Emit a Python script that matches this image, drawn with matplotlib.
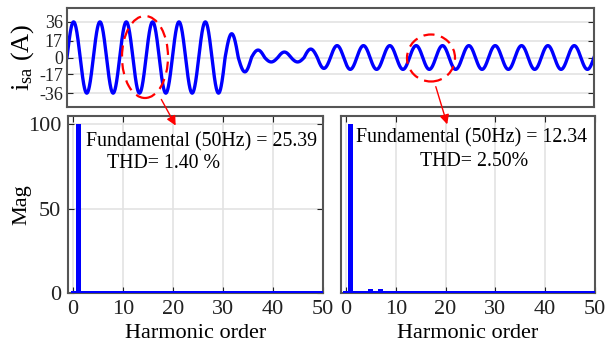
import numpy as np
import matplotlib
matplotlib.use("Agg")
import matplotlib.pyplot as plt
from matplotlib.patches import Ellipse, FancyArrowPatch

plt.rcParams['font.family'] = ['Liberation Serif', 'DejaVu Serif']
plt.rcParams['mathtext.fontset'] = 'custom'
plt.rcParams['mathtext.rm'] = 'Liberation Serif'
plt.rcParams['mathtext.it'] = 'Liberation Serif:italic'

# ---------------- data ----------------
# waveform: peak value of each half cycle (50 Hz, 20 cycles)
half_cycle_peaks = ([36, -36] * 6 +
                    [24, -14.5, 7.5, -4.5, 5.5, -4.5, 8.5, -11] +
                    [12, -12] * 10)
f0 = 50.0
ytick_vals = [-36, -17, 0, 17, 36]

harmonics = list(range(0, 51))
mag_left = [0.9, 100, 0.9, 0.9, 0.9, 1.2, 0.9, 1.2, 0.9, 0.9, 0.9,
            0.9, 0.9, 0.9, 0.9, 0.9, 0.9, 0.9, 0.9, 0.9, 0.9,
            0.9, 0.9, 0.9, 0.9, 0.9, 0.9, 0.9, 0.9, 0.9, 0.9,
            0.9, 0.9, 0.9, 0.9, 0.9, 0.9, 0.9, 0.9, 0.9, 0.9,
            0.9, 0.9, 0.9, 0.9, 0.9, 0.9, 0.9, 0.9, 0.9, 0.9]
mag_right = [0.9, 100, 0.9, 0.9, 0.9, 2.4, 0.9, 2.4, 0.9, 0.9, 0.9,
             1.2, 0.9, 1.2, 0.9, 0.9, 0.9, 1.1, 0.9, 1.1, 0.9,
             0.9, 0.9, 1.1, 0.9, 1.1, 0.9, 0.9, 0.9, 1.1, 0.9,
             1.1, 0.9, 0.9, 0.9, 1.1, 0.9, 1.1, 0.9, 0.9, 0.9,
             1.1, 0.9, 1.1, 0.9, 0.9, 0.9, 1.1, 0.9, 1.1, 0.9]
text_left = ["Fundamental (50Hz) = 25.39", "THD= 1.40 %"]
text_right = ["Fundamental (50Hz) = 12.34", "THD= 2.50%"]

# build waveform from half-cycle peaks
n_half = len(half_cycle_peaks)
pts = 60
t_list, y_list = [], []
for k, a in enumerate(half_cycle_peaks):
    tt = np.linspace(k, k + 1, pts, endpoint=False) / (2 * f0)
    t_list.append(tt)
    y_list.append(a * np.abs(np.sin(2 * np.pi * f0 * tt)))
t = np.concatenate(t_list + [np.array([n_half / (2 * f0)])])
y = np.concatenate(y_list + [np.array([0.0])])

# ---------------- figure ----------------
W, H = 606, 350
fig = plt.figure(figsize=(W / 100, H / 100), dpi=100)

def fx(px):
    return px / W

def fy(py):
    return 1 - py / H

spine_c = '#555555'
grid_c = '#e3e3e3'
fs = 16

ax0 = fig.add_axes([fx(67), fy(107), fx(594) - fx(67), fy(8) - fy(107)])
ax0.plot(t, y, color='#0000ff', lw=2.4)
ax0.set_xlim(0, n_half / (2 * f0))
ax0.set_ylim(-50, 50)
ax0.set_yticks(ytick_vals)
ax0.set_yticklabels([str(v) for v in ytick_vals])
ax0.set_xticks([])
ax0.grid(axis='y', color=grid_c, lw=1.2)
ax0.set_axisbelow(True)
ax0.set_ylabel(r'$\mathrm{i}_{\mathrm{sa}}$ (A)', fontsize=19, labelpad=2)
ax0.tick_params(axis='y', direction='in', right=True, labelsize=13,
                length=4, pad=3, colors='#222222')

axL = fig.add_axes([fx(68), fy(293), fx(323) - fx(68), fy(116) - fy(293)])
axR = fig.add_axes([fx(341), fy(293), fx(595) - fx(341), fy(116) - fy(293)])
for ax, mags in ((axL, mag_left), (axR, mag_right)):
    ax.bar(harmonics, mags, width=1.0, color='#0000ff', zorder=3)
    ax.set_xlim(-1, 50)
    ax.set_ylim(0, 105)
    ax.set_xticks([0, 10, 20, 30, 40, 50])
    ax.set_xlabel('Harmonic order', fontsize=fs, labelpad=4)
    ax.grid(axis='x', color=grid_c, lw=1.2)
    ax.set_axisbelow(True)
    ax.tick_params(direction='in', top=True, right=True, labelsize=fs,
                   length=4, pad=5, colors='#222222')

axL.set_yticks([0, 50, 100])
axL.grid(axis='y', color=grid_c, lw=1.2)
axL.set_ylabel('Mag', fontsize=fs, labelpad=-3)
axR.set_yticks([])

for ax in (ax0, axL, axR):
    for s in ax.spines.values():
        s.set_color(spine_c)
        s.set_linewidth(1.5)

# annotation texts
fts = 14.3
fig.text(fx(86), fy(142), text_left[0], fontsize=fts, va='center', ha='left')
fig.text(fx(107), fy(163), text_left[1], fontsize=fts, va='center', ha='left')
fig.text(fx(472), fy(138), text_right[0], fontsize=fts, va='center', ha='center')
fig.text(fx(474), fy(162), text_right[1], fontsize=fts, va='center', ha='center')

# red dashed ellipses and arrows
e1 = Ellipse((fx(145), fy(57)), fx(46), 82 / H, transform=fig.transFigure,
             fill=False, ec='#ff0000', ls=(0, (5, 3)), lw=1.6, zorder=10)
e2 = Ellipse((fx(431), fy(58)), fx(48), 47 / H, transform=fig.transFigure,
             fill=False, ec='#ff0000', ls=(0, (5, 3)), lw=1.6, zorder=10)
fig.patches.extend([e1, e2])
for (x1, y1, x2, y2) in ((160, 97, 177, 128), (435, 84, 448, 127)):
    arr = FancyArrowPatch((fx(x1), fy(y1)), (fx(x2), fy(y2)),
                          transform=fig.transFigure, arrowstyle='-|>',
                          mutation_scale=14, color='#ff0000', lw=1.0, zorder=10)
    fig.patches.append(arr)

fig.savefig('out.png', dpi=100)
